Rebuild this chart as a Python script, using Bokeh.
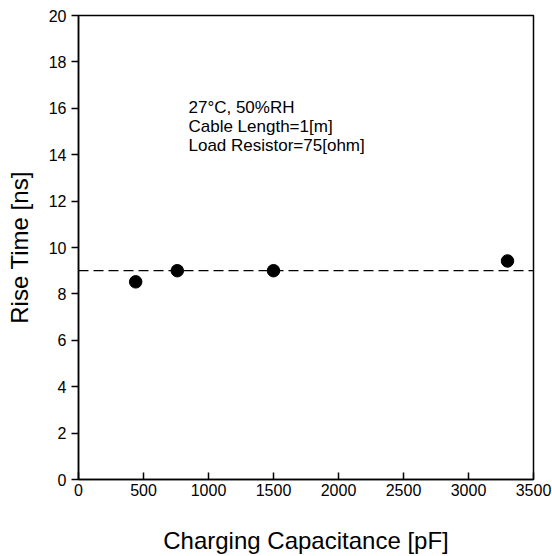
from bokeh.plotting import figure
from bokeh.models import Range1d, FixedTicker, ColumnDataSource, Span
from bokeh.core.properties import value
from bokeh.embed import file_html
from bokeh.resources import INLINE

# data
capacitance = [440, 760, 1500, 3300]
rise_time = [8.52, 9.0, 9.0, 9.42]
reference_level = 9.0
x_ticks = [0, 500, 1000, 1500, 2000, 2500, 3000, 3500]
y_ticks = [0, 2, 4, 6, 8, 10, 12, 14, 16, 18, 20]
note_lines = ["27\u00b0C, 50%RH", "Cable Length=1[m]", "Load Resistor=75[ohm]"]
note_x = [846, 846, 846]
note_y = [16.45, 15.62, 14.79]

FONT = "Liberation Sans"

p = figure(width=552, height=556, output_backend="svg", toolbar_location=None,
           x_range=Range1d(0, 3500), y_range=Range1d(0, 20),
           min_border_left=78, min_border_top=15, min_border_right=19, min_border_bottom=76)
p.background_fill_color = "white"
p.border_fill_color = "white"
p.grid.visible = False
p.outline_line_color = "black"
p.outline_line_width = 1.5

for ax in (p.xaxis[0], p.yaxis[0]):
    ax.axis_line_color = "black"
    ax.axis_line_width = 1.5
    ax.major_tick_line_color = "black"
    ax.major_tick_line_width = 1.5
    ax.minor_tick_line_color = None
    ax.major_label_text_font = FONT
    ax.major_label_text_font_size = "16px"
    ax.major_label_text_color = "black"
    ax.axis_label_text_font = FONT
    ax.axis_label_text_font_style = "normal"
    ax.axis_label_text_font_size = "24px"
    ax.axis_label_text_color = "black"

p.xaxis.ticker = FixedTicker(ticks=x_ticks)
p.yaxis.ticker = FixedTicker(ticks=y_ticks)
p.xaxis.major_tick_in = 7
p.xaxis.major_tick_out = 0
p.xaxis.major_label_standoff = 4
p.xaxis.axis_label = "Charging Capacitance [pF]"
p.xaxis.axis_label_standoff = 28
p.yaxis.major_tick_in = 0
p.yaxis.major_tick_out = 7
p.yaxis.major_label_standoff = 5
p.yaxis.axis_label = "Rise Time [ns]"
p.yaxis.axis_label_standoff = 13

p.add_layout(Span(location=reference_level, dimension="width", line_color="black",
                  line_width=1.3, line_dash="10 5"))

src = ColumnDataSource(dict(x=capacitance, y=rise_time))
p.scatter("x", "y", source=src, size=12.5, fill_color="black", line_color="black")

nsrc = ColumnDataSource(dict(x=note_x, y=note_y, t=note_lines))
p.text("x", "y", text="t", source=nsrc, text_font=value(FONT), text_font_size="17px",
       text_baseline="top", text_align="left", text_color="black")

open("out.html", "w").write(file_html(p, INLINE))
